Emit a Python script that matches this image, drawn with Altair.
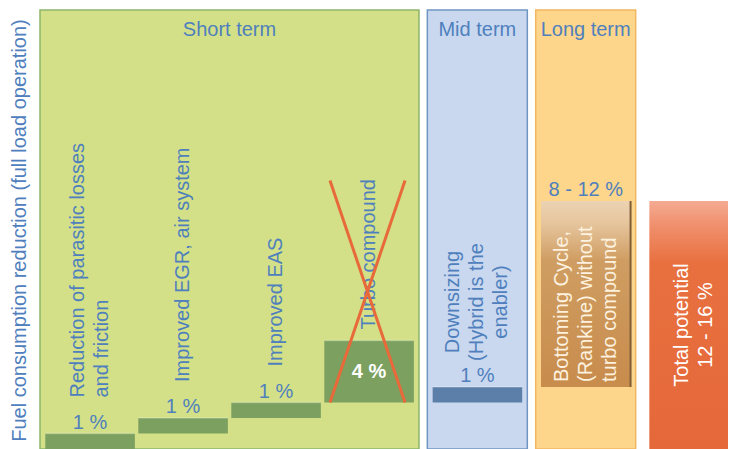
import altair as alt
import pandas as pd

# ---------------- data ----------------
bar_labels = [
    "Reduction of parasitic losses\nand friction",
    "Improved EGR, air system",
    "Improved EAS",
    "Turbo compound",
    "Downsizing\n(Hybrid is the\nenabler)",
    "Bottoming Cycle,\n(Rankine) without\nturbo compound",
    "Total potential\n12 - 16 %",
]
bar_terms = ["Short term", "Short term", "Short term", "Short term",
             "Mid term", "Long term", "Total"]
bar_increments = [1, 1, 1, 4, 1, 12, 16]
bar_value_labels = ["1 %", "1 %", "1 %", "4 %", "1 %", "8 - 12 %", ""]
bar_crossed_out = [False, False, False, True, False, False, False]
panel_terms = ["Short term", "Mid term", "Long term"]
y_axis_title = "Fuel consumption reduction (full load operation)"

# ---------------- layout / style ----------------
W, H = 688, 439
PPU = 15.5                 # pixels per percentage unit
Y_MAX = H / PPU
GAP = 0.165                # extra gap between term groups (in slot units)
SLOT_PX = 93.0
X_MIN = -0.045
X_MAX = X_MIN + W / SLOT_PX
LINE_H = 24
FONT = "Liberation Sans"
BLUE_TEXT = "#4f80bd"
group_order = panel_terms + ["Total"]
bar_fill = {"Short term": "#7ca05f", "Mid term": "#5b7fa8"}
panel_fill = {"Short term": "#d3e087", "Mid term": "#c9d8ef", "Long term": "#fdd68b"}
panel_stroke = {"Short term": "#8db56b", "Mid term": "#7095c4", "Long term": "#f2b660"}

rows = []
level = 0.0
for i, (lab, term, inc, vlab, crossed) in enumerate(
        zip(bar_labels, bar_terms, bar_increments, bar_value_labels, bar_crossed_out)):
    base = i + GAP * group_order.index(term)
    if term == "Total":
        y0, y1 = 0.0, float(inc)
    else:
        y0, y1 = level, level + inc
        if not crossed:
            level = y1
    if term == "Short term":
        ty = y1 + (11 if crossed else 36) / PPU
        lay = "left"
        tcol = BLUE_TEXT
    elif term == "Mid term":
        ty = y1 + 85 / PPU
        lay = "center"
        tcol = BLUE_TEXT
    elif term == "Long term":
        ty = y0 + 5 / PPU
        lay = "left"
        tcol = "#fdf1df"
    else:
        ty = (y0 + y1) / 2
        lay = "center"
        tcol = "#ffffff"
    n_lines = lab.count("\n") + 1
    xc = base + 0.4935
    rows.append(dict(label=lab, term=term, vlab=vlab, crossed=crossed, base=base,
                     x0=base + 0.012, x1=base + 0.975, xc=xc,
                     xt=xc - (n_lines - 1) * LINE_H / 2 / SLOT_PX,
                     y0=y0, y1=y1, ym=(y0 + y1) / 2, ty=ty, lay=lay, tcol=tcol,
                     fill=bar_fill.get(term, "#000000")))
bars = pd.DataFrame(rows)

prow = []
for t in panel_terms:
    sub = bars[bars.term == t]
    x0 = sub.base.iloc[0] - 0.045
    x1 = sub.base.iloc[-1] + 1.03
    prow.append(dict(term=t, x0=x0, x1=x1, xc=(x0 + x1) / 2, y0=0.0, y1=Y_MAX,
                     ty=Y_MAX - 20 / PPU, fill=panel_fill[t], stroke=panel_stroke[t]))
panels = pd.DataFrame(prow)

xs = alt.Scale(domain=[X_MIN, X_MAX], nice=False, zero=False)
ys = alt.Scale(domain=[0, Y_MAX], nice=False, zero=False)
yaxis = alt.Axis(title=y_axis_title, labels=False, ticks=False, domain=False, grid=False,
                 titleFont=FONT, titleFontSize=20, titleFontWeight="normal",
                 titleColor=BLUE_TEXT, titleX=-21, titleY=220, titleAngle=270,
                 titleAlign="center", titleBaseline="middle")


def X(f):
    return alt.X(f, type="quantitative", scale=xs, axis=None)


def Y(f):
    return alt.Y(f, type="quantitative", scale=ys, axis=yaxis)


panel_layer = alt.Chart(panels).mark_rect(strokeWidth=1.5).encode(
    x=X("x0"), x2="x1", y=Y("y0"), y2="y1",
    fill=alt.Fill("fill:N", scale=None), stroke=alt.Stroke("stroke:N", scale=None))

panel_titles = alt.Chart(panels).mark_text(font=FONT, fontSize=20, color=BLUE_TEXT,
                                           baseline="middle").encode(
    x=X("xc"), y=Y("ty"), text="term:N")

solid = bars[bars.term.isin(["Short term", "Mid term"])]
solid_layer = alt.Chart(solid).mark_rect().encode(
    x=X("x0"), x2="x1", y=Y("y0"), y2="y1", fill=alt.Fill("fill:N", scale=None))
solid_top = alt.Chart(solid).mark_rule(color="#ffffff", opacity=0.25, strokeWidth=1.5).encode(
    x=X("x0"), x2="x1", y=Y("y1"))

long_grad = {"gradient": "linear", "x1": 0, "x2": 0, "y1": 0, "y2": 1,
             "stops": [{"offset": 0, "color": "#ecd3b3"},
                       {"offset": 0.12, "color": "#e6c59d"},
                       {"offset": 0.32, "color": "#cf9d62"},
                       {"offset": 1, "color": "#c88c4c"}]}
long_layer = alt.Chart(bars[bars.term == "Long term"]).mark_rect(
    fill=long_grad).encode(x=X("x0"), x2="x1", y=Y("y0"), y2="y1")
long_edge = alt.Chart(bars[bars.term == "Long term"]).mark_rule(
    color="#7f5d36", strokeWidth=2).encode(x=X("x1"), y=Y("y0"), y2="y1")

total_grad = {"gradient": "linear", "x1": 0, "x2": 0, "y1": 0, "y2": 1,
              "stops": [{"offset": 0, "color": "#f4ab92"},
                        {"offset": 0.1, "color": "#f08f6c"},
                        {"offset": 0.25, "color": "#e8703f"},
                        {"offset": 1, "color": "#e5683a"}]}
total_layer = alt.Chart(bars[bars.term == "Total"]).mark_rect(
    fill=total_grad).encode(x=X("x0"), x2="x1", y=Y("y0"), y2="y1")

left_txt = alt.Chart(bars[bars.lay == "left"]).mark_text(
    font=FONT, fontSize=20, angle=270, align="left", baseline="middle",
    lineBreak="\n", lineHeight=LINE_H).encode(
    x=X("xt"), y=Y("ty"), text="label:N", color=alt.Color("tcol:N", scale=None))
center_txt = alt.Chart(bars[bars.lay == "center"]).mark_text(
    font=FONT, fontSize=20, angle=270, align="center", baseline="middle",
    lineBreak="\n", lineHeight=LINE_H).encode(
    x=X("xt"), y=Y("ty"), text="label:N", color=alt.Color("tcol:N", scale=None))

above = bars[(~bars.crossed) & (bars.vlab != "")]
value_txt = alt.Chart(above).mark_text(
    font=FONT, fontSize=20, color=BLUE_TEXT, baseline="alphabetic", dy=-5).encode(
    x=X("xc"), y=Y("y1"), text="vlab:N")
inside = bars[bars.crossed]
inside_txt = alt.Chart(inside).mark_text(
    font=FONT, fontSize=20, fontWeight="bold", color="#ffffff", baseline="middle").encode(
    x=X("xc"), y=Y("ym"), text="vlab:N")

# red cross over the discarded step
cross_rows = []
for _, r in inside.iterrows():
    xa, xb = r.base + 0.073, r.base + 0.88
    ytop = r.y1 + 160 / PPU
    cross_rows.append(dict(xa=xa, xb=xb, ya=ytop, yb=r.y0))
    cross_rows.append(dict(xa=xb, xb=xa, ya=ytop, yb=r.y0))
cross = alt.Chart(pd.DataFrame(cross_rows)).mark_rule(
    color="#e8693a", strokeWidth=3).encode(x=X("xa"), x2="xb", y=Y("ya"), y2="yb")

chart = alt.layer(
    panel_layer, panel_titles, solid_layer, solid_top, long_layer, long_edge, total_layer,
    left_txt, center_txt, value_txt, inside_txt, cross
).properties(
    width=W, height=H,
    autosize=alt.AutoSizeParams(type="none"),
    padding={"left": 32, "top": 2, "right": 0, "bottom": 0},
).configure_view(stroke=None)

chart.save("out.html", embed_options={"renderer": "svg", "actions": False})
